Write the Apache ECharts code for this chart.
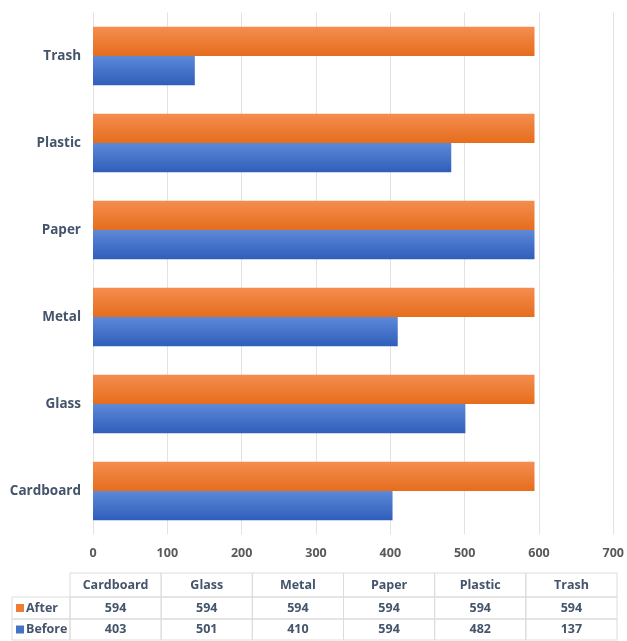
<!DOCTYPE html>
<html>
<head>
<meta charset="utf-8">
<script src="https://cdn.jsdelivr.net/npm/echarts@6/dist/echarts.min.js"></script>
<style>
  html, body { margin: 0; padding: 0; background: #ffffff; }
  #chart { width: 627px; height: 641px; }
</style>
</head>
<body>
<div id="chart"></div>
<script>
// Waste categories, bottom to top on the value chart
const categories = ['Cardboard', 'Glass', 'Metal', 'Paper', 'Plastic', 'Trash'];
// Image counts per class before and after balancing
const beforeValues = [403, 501, 410, 594, 482, 137];
const afterValues = [594, 594, 594, 594, 594, 594];
const seriesNames = ['After', 'Before'];
// Value axis ticks
const axisMin = 0;
const axisMax = 700;
const axisStep = 100;

const FONT = '"Open Sans", Lato, sans-serif';
const orangeFill = new echarts.graphic.LinearGradient(0, 0, 0, 1, [
  { offset: 0, color: '#F58D4F' },
  { offset: 1, color: '#E56D1D' }
]);
const blueFill = new echarts.graphic.LinearGradient(0, 0, 0, 1, [
  { offset: 0, color: '#5D89D8' },
  { offset: 1, color: '#2F5EBB' }
]);
const swatch = { After: '#ED7D31', Before: '#4472C4' };

// Data table beneath the axis
function buildTable() {
  const elems = [];
  const left0 = 12, left1 = 70, right = 617;
  const rowY = [573, 597, 619, 640];
  const colW = (right - left1) / categories.length;
  const border = '#DCDCDC';
  const textStyleBase = { fontFamily: FONT, fontWeight: 'bold', fontSize: 12.5, fill: '#44546A' };
  // header cells
  categories.forEach((c, i) => {
    const x = left1 + i * colW;
    elems.push({ type: 'rect', shape: { x: x, y: rowY[0], width: colW, height: rowY[1] - rowY[0] },
      style: { fill: 'none', stroke: border, lineWidth: 1 }, silent: true });
    elems.push({ type: 'text', x: x + colW / 2, y: (rowY[0] + rowY[1]) / 2,
      style: Object.assign({ text: c, align: 'center', verticalAlign: 'middle' }, textStyleBase), silent: true });
  });
  const rows = [afterValues, beforeValues];
  rows.forEach((vals, r) => {
    const y0 = rowY[r + 1], y1 = rowY[r + 2];
    const name = seriesNames[r];
    elems.push({ type: 'rect', shape: { x: left0, y: y0, width: left1 - left0, height: y1 - y0 },
      style: { fill: 'none', stroke: border, lineWidth: 1 }, silent: true });
    elems.push({ type: 'rect', shape: { x: left0 + 4, y: (y0 + y1) / 2 - 4, width: 8, height: 8 },
      style: { fill: swatch[name] }, silent: true });
    elems.push({ type: 'text', x: left0 + 14, y: (y0 + y1) / 2,
      style: Object.assign({ text: name, align: 'left', verticalAlign: 'middle' }, textStyleBase), silent: true });
    vals.forEach((v, i) => {
      const x = left1 + i * colW;
      elems.push({ type: 'rect', shape: { x: x, y: y0, width: colW, height: y1 - y0 },
        style: { fill: 'none', stroke: border, lineWidth: 1 }, silent: true });
      elems.push({ type: 'text', x: x + colW / 2, y: (y0 + y1) / 2,
        style: Object.assign({ text: String(v), align: 'center', verticalAlign: 'middle' }, textStyleBase), silent: true });
    });
  });
  return elems;
}

const chart = echarts.init(document.getElementById('chart'), null, { renderer: 'canvas' });
chart.setOption({
  animation: false,
  backgroundColor: '#ffffff',
  grid: { left: 93, top: 12.5, width: 523, height: 522, containLabel: false },
  xAxis: {
    type: 'value',
    min: axisMin, max: axisMax, interval: axisStep,
    axisLine: { show: false },
    axisTick: { show: false },
    splitLine: { show: true, lineStyle: { color: '#E3E3E3', width: 1 } },
    axisLabel: { color: '#595959', fontFamily: FONT, fontWeight: 'bold', fontSize: 12.5, margin: 12 }
  },
  yAxis: {
    type: 'category',
    data: categories,
    axisLine: { show: false },
    axisTick: { show: false },
    axisLabel: { color: '#44546A', fontFamily: FONT, fontWeight: 'bold', fontSize: 13.5, margin: 12 }
  },
  series: [
    {
      name: 'After', type: 'bar', data: afterValues,
      barGap: '0%', barCategoryGap: '33%',
      itemStyle: { color: orangeFill }
    },
    {
      name: 'Before', type: 'bar', data: beforeValues,
      barGap: '0%', barCategoryGap: '33%',
      itemStyle: { color: blueFill }
    }
  ],
  graphic: buildTable()
});
</script>
</body>
</html>
